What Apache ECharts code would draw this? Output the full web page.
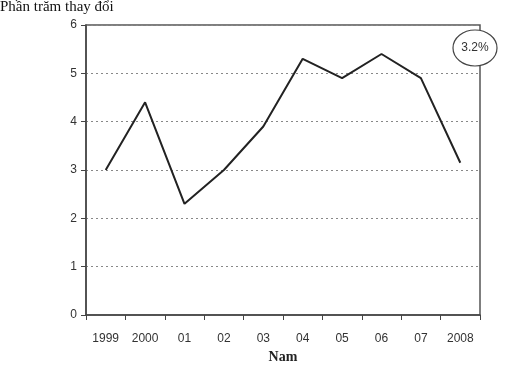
<!DOCTYPE html>
<html>
<head>
<meta charset="utf-8">
<script src="https://cdn.jsdelivr.net/npm/echarts@6/dist/echarts.min.js"></script>
<style>
  html, body { margin: 0; padding: 0; background: #fff; }
  #chart { width: 519px; height: 378px; }
</style>
</head>
<body>
<div id="chart"></div>
<script>
const years = ['1999', '2000', '01', '02', '03', '04', '05', '06', '07', '2008']
const percentChange = [3.0, 4.4, 2.3, 3.0, 3.9, 5.3, 4.9, 5.4, 4.9, 3.15]
const lastLabel = '3.2%'

const chart = echarts.init(document.getElementById('chart'))
const option = {
  animation: false,
  grid: {
    left: 86,
    right: 39,
    top: 25,
    bottom: 63,
    show: true,
    borderColor: '#555',
    borderWidth: 1.5
  },
  graphic: [
    {
      type: 'text',
      left: 0,
      top: 0,
      style: {
        text: 'Phần trăm thay đổi',
        font: '15px "Liberation Serif", serif',
        fill: '#111'
      }
    },
    {
      type: 'ellipse',
      shape: { cx: 475, cy: 48, rx: 22, ry: 18 },
      style: { fill: '#fff', stroke: '#444', lineWidth: 1.2 },
      z: 10
    },
    {
      type: 'text',
      x: 475,
      y: 48,
      style: {
        text: lastLabel,
        font: '12px "Liberation Sans", Arial, sans-serif',
        fill: '#333',
        align: 'center',
        verticalAlign: 'middle'
      },
      z: 11
    }
  ],
  xAxis: {
    type: 'category',
    data: years,
    boundaryGap: true,
    name: 'Nam',
    nameLocation: 'middle',
    nameGap: 34,
    nameTextStyle: {
      fontFamily: '"Liberation Serif", serif',
      fontWeight: 'bold',
      fontSize: 14,
      color: '#222'
    },
    axisLine: { lineStyle: { color: '#444', width: 1.5 } },
    axisTick: { show: true, length: 5, lineStyle: { color: '#444' } },
    axisLabel: {
      margin: 18,
      fontFamily: '"Liberation Sans", Arial, sans-serif',
      fontSize: 12,
      color: '#333'
    }
  },
  yAxis: {
    type: 'value',
    min: 0,
    max: 6,
    interval: 1,
    axisLine: { show: true, lineStyle: { color: '#444', width: 1.5 } },
    axisTick: { show: true, length: 5, lineStyle: { color: '#444' } },
    axisLabel: {
      margin: 9,
      fontFamily: '"Liberation Sans", Arial, sans-serif',
      fontSize: 12,
      color: '#333'
    },
    splitLine: {
      lineStyle: { color: '#888', type: [2, 3], width: 1 }
    }
  },
  series: [
    {
      type: 'line',
      data: percentChange,
      symbol: 'none',
      lineStyle: { color: '#222', width: 2 }
    }
  ]
}
chart.setOption(option)
</script>
</body>
</html>
